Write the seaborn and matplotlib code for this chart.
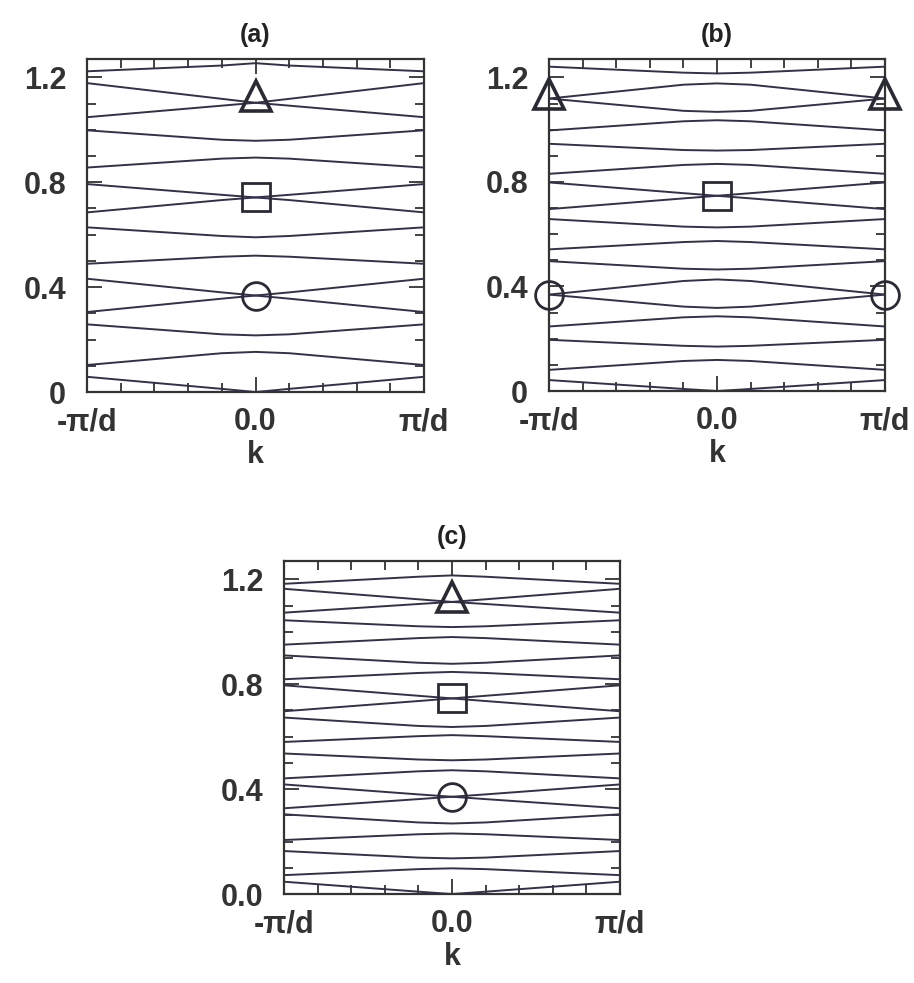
import numpy as np
import pandas as pd
import matplotlib
matplotlib.use("Agg")
import matplotlib.pyplot as plt
import seaborn as sns
from matplotlib.ticker import MultipleLocator, FixedLocator

# k 取样点（单位 π/d），能带对称，读取 边界 / k=0.2 / 中心 三处的值
k_half = [1.0, 0.2, 0.0]

# (a) 各能带：[k=π/d 处, k=0.2 处, k=0 处]
bands_a = [
    [1.223, 1.245, 1.254],
    [1.178, 1.118, 1.103],
    [1.048, 1.092, 1.103],
    [0.998, 0.962, 0.958],
    [0.856, 0.890, 0.894],
    [0.793, 0.752, 0.742],
    [0.685, 0.732, 0.742],
    [0.628, 0.595, 0.590],
    [0.489, 0.516, 0.520],
    [0.432, 0.380, 0.368],
    [0.305, 0.356, 0.368],
    [0.258, 0.220, 0.216],
    [0.103, 0.148, 0.153],
    [0.058, 0.012, 0.000],
]

# (b)
bands_b = [
    [1.241, 1.218, 1.215],
    [1.119, 1.172, 1.177],
    [1.119, 1.072, 1.068],
    [0.997, 1.032, 1.036],
    [0.946, 0.922, 0.920],
    [0.831, 0.865, 0.869],
    [0.798, 0.757, 0.747],
    [0.696, 0.737, 0.747],
    [0.658, 0.629, 0.626],
    [0.542, 0.570, 0.574],
    [0.497, 0.468, 0.465],
    [0.369, 0.421, 0.427],
    [0.369, 0.323, 0.318],
    [0.247, 0.282, 0.286],
    [0.196, 0.173, 0.170],
    [0.081, 0.115, 0.119],
    [0.042, 0.008, 0.000],
]

# (c)
bands_c = [
    [1.183, 1.210, 1.215],
    [1.164, 1.124, 1.114],
    [1.073, 1.106, 1.114],
    [1.044, 1.021, 1.018],
    [0.951, 0.976, 0.980],
    [0.910, 0.882, 0.878],
    [0.819, 0.843, 0.847],
    [0.796, 0.756, 0.746],
    [0.697, 0.736, 0.746],
    [0.673, 0.641, 0.637],
    [0.580, 0.602, 0.606],
    [0.536, 0.513, 0.510],
    [0.441, 0.468, 0.472],
    [0.418, 0.380, 0.371],
    [0.327, 0.362, 0.371],
    [0.304, 0.273, 0.269],
    [0.206, 0.228, 0.231],
    [0.164, 0.139, 0.136],
    [0.072, 0.095, 0.098],
    [0.047, 0.009, 0.000],
]

# 标记：(形状, k, 值)
marks_a = [("^", 0.0, 1.127), ("s", 0.0, 0.742), ("o", 0.0, 0.368)]
marks_b = [("^", -1.0, 1.135), ("^", 1.0, 1.135), ("s", 0.0, 0.747),
           ("o", -1.0, 0.367), ("o", 1.0, 0.367)]
marks_c = [("^", 0.0, 1.133), ("s", 0.0, 0.746), ("o", 0.0, 0.370)]

x_ticks = [-1.0, 0.0, 1.0]
x_labels = ["-π/d", "0.0", "π/d"]
y_ticks = [0.0, 0.4, 0.8, 1.2]
y_labels_ab = ["0", "0.4", "0.8", "1.2"]
y_labels_c = ["0.0", "0.4", "0.8", "1.2"]

sns.set_theme(style="white")
plt.rcParams['font.family'] = ['Liberation Sans', 'DejaVu Sans']

line_col = "#35304a"
text_col = "#333333"


def to_frame(bands):
    rows = []
    for i, b in enumerate(bands):
        ks = [-k_half[0], -k_half[1], k_half[2], k_half[1], k_half[0]]
        es = [b[0], b[1], b[2], b[1], b[0]]
        for k, e in zip(ks, es):
            rows.append({"k": k, "E": e, "band": i})
    return pd.DataFrame(rows)


def draw_panel(ax, bands, marks, title, ylabels):
    df = to_frame(bands)
    sns.lineplot(data=df, x="k", y="E", units="band", estimator=None,
                 color=line_col, linewidth=1.4, ax=ax, legend=False,
                 sort=False)
    sizes = {"^": 21, "s": 20, "o": 20}
    for m, k, e in marks:
        ax.plot(k, e, marker=m, markersize=sizes[m], markerfacecolor="none",
                markeredgecolor="#2a2a35", markeredgewidth=2.0 if m != "^" else 2.6,
                linestyle="none", clip_on=False, zorder=5)
    ax.set_xlim(-1, 1)
    ax.set_ylim(0, 1.27)
    ax.xaxis.set_major_locator(FixedLocator(x_ticks))
    ax.set_xticklabels(x_labels)
    ax.xaxis.set_minor_locator(MultipleLocator(0.2))
    ax.yaxis.set_major_locator(FixedLocator(y_ticks))
    ax.set_yticklabels(ylabels)
    ax.yaxis.set_minor_locator(MultipleLocator(0.1))
    ax.tick_params(which="both", direction="in", top=True, right=True,
                   bottom=True, left=True, color="#333333", width=1.3)
    ax.tick_params(which="major", length=11)
    ax.tick_params(which="minor", length=6.5)
    ax.tick_params(axis="y", which="major", pad=15, labelsize=22,
                   labelcolor=text_col)
    ax.tick_params(axis="x", which="major", pad=11, labelsize=22,
                   labelcolor=text_col)
    for lab in ax.get_xticklabels() + ax.get_yticklabels():
        lab.set_fontweight("bold")
    for sp in ax.spines.values():
        sp.set_linewidth(1.6)
        sp.set_color("#333333")
        sp.set_visible(True)
    ax.set_xlabel("k", fontsize=22, fontweight="bold", color=text_col,
                  labelpad=2)
    ax.set_ylabel("")
    ax.set_title(title, fontsize=18, fontweight="bold", color="#222222", pad=12)


fig = plt.figure(figsize=(9.14, 9.83), dpi=100)
ax_a = fig.add_axes([0.0952, 0.6012, 0.3687, 0.3388])
ax_b = fig.add_axes([0.6007, 0.6022, 0.3676, 0.3377])
ax_c = fig.add_axes([0.3107, 0.0905, 0.3676, 0.3388])

draw_panel(ax_a, bands_a, marks_a, "(a)", y_labels_ab)
draw_panel(ax_b, bands_b, marks_b, "(b)", y_labels_ab)
draw_panel(ax_c, bands_c, marks_c, "(c)", y_labels_c)

fig.savefig("out.png", dpi=100)
